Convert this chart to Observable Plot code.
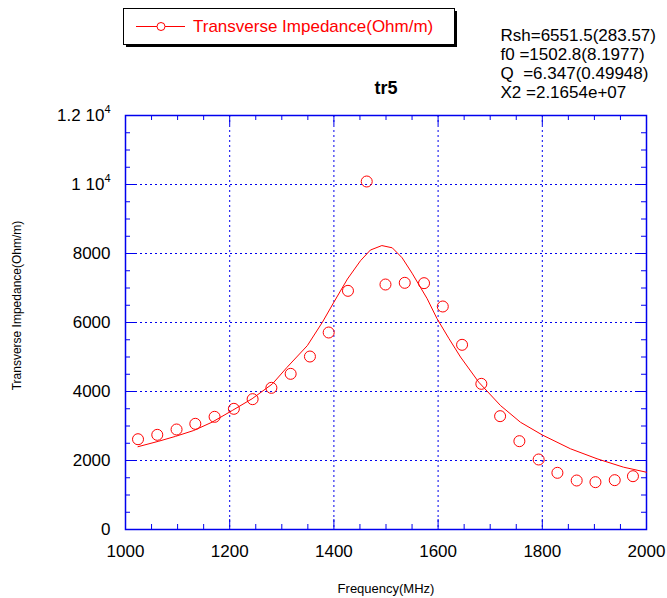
<!DOCTYPE html>
<html><head><meta charset="utf-8">
<script src="https://cdn.jsdelivr.net/npm/d3@7"></script>
<script src="https://cdn.jsdelivr.net/npm/@observablehq/plot@0.6"></script>
<style>
body{margin:0;background:#fff}
</style></head><body><div id="chart"></div>
<script>
const measFreq = [1024,1061,1098,1134,1171,1208,1244,1280,1317,1354,1390,1427,1463,1499,1536,1573,1609,1646,1683,1719,1756,1793,1829,1866,1902,1939,1974];
const measValue = [2617,2744,2899,3063,3266,3498,3778,4106,4512,5014,5710,6918,10087,7101,7150,7140,6464,5353,4222,3285,2560,2029,1643,1420,1372,1430,1545];
const fitFreq = [1024,1064,1096,1131,1166,1205,1243,1282,1310,1349,1378,1400,1426,1451,1470,1492,1512,1531,1550,1579,1598,1621,1643,1678,1720,1758,1800,1854,1905,1956,2000];
const fitValue = [2400,2560,2700,2870,3110,3450,3790,4220,4700,5330,6010,6590,7260,7790,8100,8230,8165,7875,7430,6690,6110,5530,5000,4270,3590,3110,2740,2340,2050,1806,1660];
const xMajorTicks = [1000,1200,1400,1600,1800,2000];
const xMinorTicks = [1050,1100,1150,1250,1300,1350,1450,1500,1550,1650,1700,1750,1850,1900,1950];
const xTickLabels = ["1000","1200","1400","1600","1800","2000"];
const yMajorTicks = [0,2000,4000,6000,8000,10000,12000];
const yMinorTicks = [500,1000,1500,2500,3000,3500,4500,5000,5500,6500,7000,7500,8500,9000,9500,10500,11000,11500];
const yTickLabels = ["0","2000","4000","6000","8000","1 10^4","1.2 10^4"];
const seriesName = "Transverse Impedance(Ohm/m)";
const fitParams = ["Rsh=6551.5(283.57)","f0 =1502.8(8.1977)","Q  =6.347(0.49948)","X2 =2.1654e+07"];
const chartTitle = "tr5";
const xLabel = "Frequency(MHz)";
const yLabel = "Transverse Impedance(Ohm/m)";

const measured = measFreq.map((f,i)=>({f, v: measValue[i]}));
const fit = fitFreq.map((f,i)=>({f, v: fitValue[i]}));
const blue = "#0000ee";
const FONT = "'Liberation Sans', Arial, sans-serif";
const W = 667, H = 598, ML = 125, MR = 21, MT = 115, MB = 69;
const innerW = W - ML - MR, innerH = H - MT - MB;

const chart = Plot.plot({
  width: W, height: H,
  marginLeft: ML, marginRight: MR, marginTop: MT, marginBottom: MB,
  style: {fontFamily: FONT, background: "white", overflow: "visible"},
  x: {domain: [1000, 2000]},
  y: {domain: [0, 12000]},
  marks: [
    Plot.gridX(xMajorTicks.slice(1,-1), {stroke: blue, strokeOpacity: 1, strokeWidth: 1, strokeDasharray: "2,3"}),
    Plot.gridY(yMajorTicks.slice(1,-1), {stroke: blue, strokeOpacity: 1, strokeWidth: 1, strokeDasharray: "2,3"}),
    // inward ticks on all four sides
    Plot.ruleX(xMajorTicks, {x: d => d, insetTop: innerH - 10, stroke: blue}),
    Plot.ruleX(xMajorTicks, {x: d => d, insetBottom: innerH - 10, stroke: blue}),
    Plot.ruleX(xMinorTicks, {x: d => d, insetTop: innerH - 5, stroke: blue}),
    Plot.ruleX(xMinorTicks, {x: d => d, insetBottom: innerH - 5, stroke: blue}),
    Plot.ruleY(yMajorTicks, {y: d => d, insetRight: innerW - 10, stroke: blue}),
    Plot.ruleY(yMajorTicks, {y: d => d, insetLeft: innerW - 10, stroke: blue}),
    Plot.ruleY(yMinorTicks, {y: d => d, insetRight: innerW - 5, stroke: blue}),
    Plot.ruleY(yMinorTicks, {y: d => d, insetLeft: innerW - 5, stroke: blue}),
    // tick labels
    Plot.axisX({anchor: "bottom", ticks: xMajorTicks, tickSize: 0, tickPadding: 15, fontSize: 17, fill: "black",
      tickFormat: d => xTickLabels[xMajorTicks.indexOf(d)], label: null}),
    Plot.axisY({anchor: "left", ticks: yMajorTicks, tickSize: 0, tickPadding: 15, fontSize: 17, fill: "black",
      tickFormat: d => yTickLabels[yMajorTicks.indexOf(d)], label: null}),
    Plot.frame({stroke: blue, strokeWidth: 1.5}),
    Plot.line(fit, {x: "f", y: "v", stroke: "red", strokeWidth: 1}),
    Plot.dot(measured, {x: "f", y: "v", r: 5.5, stroke: "red", strokeWidth: 1, fill: "none"}),
    Plot.text([xLabel], {frameAnchor: "bottom", lineAnchor: "middle", textAnchor: "middle", dy: 59, text: d => d, fontSize: 13, fill: "black"}),
    Plot.text([yLabel], {frameAnchor: "left", lineAnchor: "middle", textAnchor: "middle", dx: -108, dy: -17, rotate: -90, text: d => d, fontSize: 12, fill: "black"}),
    Plot.text([chartTitle], {frameAnchor: "top", lineAnchor: "middle", textAnchor: "middle", dy: -27, text: d => d, fontSize: 18, fontWeight: "bold", fill: "black"}),
    ...fitParams.map((s, i) => Plot.text([s], {frameAnchor: "top-left", lineAnchor: "middle", textAnchor: "start",
      dx: 375, dy: -80 + i * 19, text: d => d, fontSize: 17, fill: "black"}))
  ]
});

document.getElementById("chart").appendChild(chart);
const svg = d3.select(chart);

// superscripts in y tick labels (e.g. "1 10^4")
svg.selectAll("text").each(function(){
  const s = this.textContent;
  if (s.includes("^") && !this.querySelector("tspan.sup")) {
    const [base, exp] = s.split("^");
    const t = d3.select(this);
    t.text(null);
    t.append("tspan").text(base);
    t.append("tspan").attr("class", "sup").attr("font-size", 11).attr("dy", "-0.75em").text(exp);
  }
});

// legend box with shadow
const lg = svg.append("g").attr("font-family", FONT).attr("text-anchor", "start");
lg.append("rect").attr("x", 126).attr("y", 11).attr("width", 331).attr("height", 36).attr("fill", "black");
lg.append("rect").attr("x", 123.5).attr("y", 8.5).attr("width", 331).attr("height", 36).attr("fill", "white").attr("stroke", "black").attr("stroke-width", 1);
lg.append("line").attr("x1", 136).attr("x2", 185).attr("y1", 26.5).attr("y2", 26.5).attr("stroke", "red");
lg.append("circle").attr("cx", 161).attr("cy", 26.5).attr("r", 4).attr("fill", "white").attr("stroke", "red");
lg.append("text").attr("x", 193).attr("y", 26.5).attr("dy", "0.35em").attr("font-size", 17).attr("fill", "red").text(seriesName);
</script></body></html>
